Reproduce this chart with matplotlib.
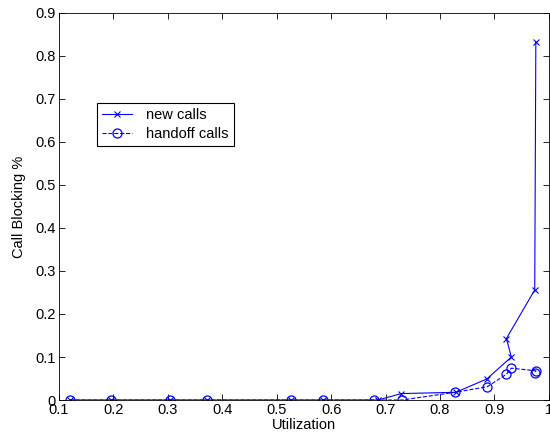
import matplotlib
matplotlib.use("Agg")
import matplotlib.pyplot as plt

# utilization values and blocking probabilities
util_new = [0.12, 0.196, 0.305, 0.372, 0.527, 0.585, 0.686, 0.729, 0.829, 0.886, 0.931, 0.922, 0.974, 0.976]
block_new = [0, 0, 0, 0, 0, 0, 0, 0.015, 0.018, 0.049, 0.100, 0.143, 0.256, 0.833]

util_handoff = [0.12, 0.196, 0.305, 0.372, 0.527, 0.585, 0.678, 0.730, 0.828, 0.887, 0.922, 0.931, 0.976, 0.975]
block_handoff = [0, 0, 0, 0, 0, 0, 0, 0, 0.018, 0.031, 0.060, 0.074, 0.068, 0.062]

xticks = [0.1, 0.2, 0.3, 0.4, 0.5, 0.6, 0.7, 0.8, 0.9, 1]
xtick_labels = ["0.1", "0.2", "0.3", "0.4", "0.5", "0.6", "0.7", "0.8", "0.9", "1"]
yticks = [0, 0.1, 0.2, 0.3, 0.4, 0.5, 0.6, 0.7, 0.8, 0.9]
ytick_labels = ["0", "0.1", "0.2", "0.3", "0.4", "0.5", "0.6", "0.7", "0.8", "0.9"]

plt.rcParams["font.family"] = ["Liberation Sans", "DejaVu Sans"]
plt.rcParams["font.size"] = 10.5

fig = plt.figure(figsize=(5.5, 4.43), dpi=100)
ax = fig.add_axes([0.107, 0.097, 0.891, 0.874])

blue = "#0000ff"
ax.plot(util_new, block_new, "-x", color=blue, lw=0.8, ms=5, mew=0.8, label="new calls")
ax.plot(util_handoff, block_handoff, "--o", color=blue, lw=0.8, ms=6.5, mew=0.9,
        mfc="none", label="handoff calls")

ax.set_xlim(0.1, 1)
ax.set_ylim(0, 0.9)
ax.set_xticks(xticks)
ax.set_xticklabels(xtick_labels)
ax.set_yticks(yticks)
ax.set_yticklabels(ytick_labels)
ax.tick_params(direction="in", top=True, right=True, length=4, width=0.6, pad=2)
for s in ax.spines.values():
    s.set_linewidth(0.6)

ax.set_xlabel("Utilization", labelpad=1)
ax.set_ylabel("Call Blocking %", labelpad=7)

leg = ax.legend(loc="upper left", bbox_to_anchor=(0.177, 0.767), bbox_transform=fig.transFigure,
                fancybox=False, framealpha=1, edgecolor="black", borderpad=0.35,
                handlelength=2.0, handletextpad=1.0, labelspacing=0.3, borderaxespad=0)
leg.get_frame().set_linewidth(0.8)

fig.savefig("out.png", dpi=100)
